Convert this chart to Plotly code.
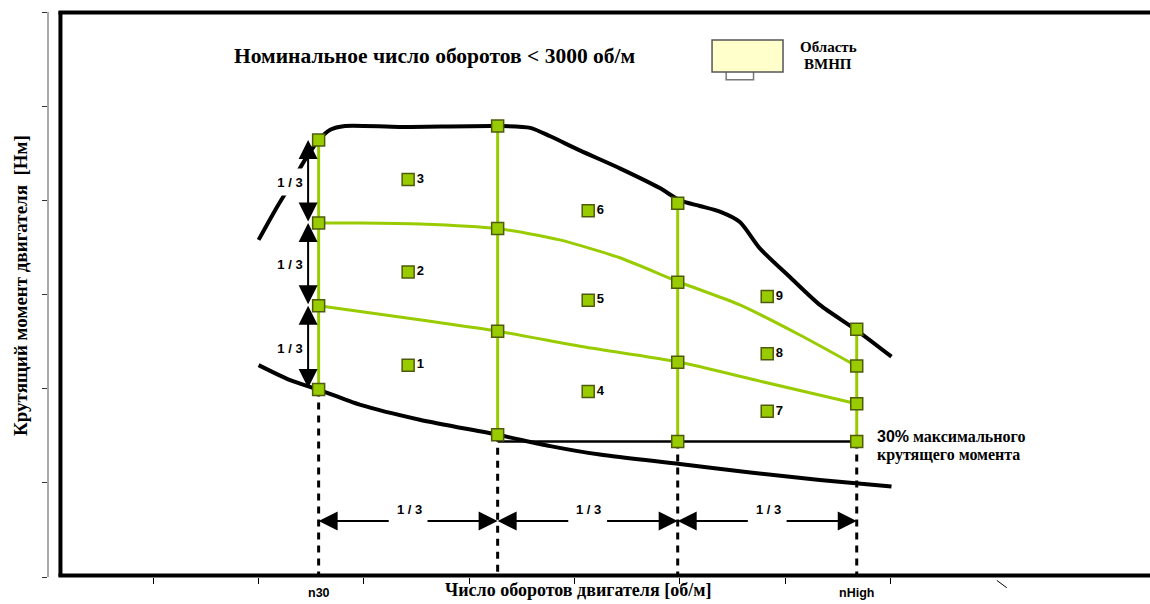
import plotly.graph_objects as go

# ---------------- data (axis units: 1 unit = one tick interval) ----------------
speed_cols = [2.57, 4.27, 5.98, 7.68]            # n30 ... nHigh
speed_col_labels = ["n30", "", "", "nHigh"]
torque_30pct = [1.99, 1.51, 1.44, 1.44]           # lower limit points
torque_one_third = [2.88, 2.61, 2.28, 1.84]
torque_two_third = [3.76, 3.70, 3.13, 2.24]
torque_max_pts = [4.64, 4.79, 3.97, 2.63]
torque_30pct_level = 1.44

max_curve_x = [2.00, 2.16, 2.30, 2.44, 2.57, 2.68, 2.82, 3.34, 4.27, 4.58, 4.77,
               5.05, 5.43, 5.81, 6.00, 6.19, 6.38, 6.57, 6.76, 7.05, 7.33, 7.68, 8.01]
max_curve_y = [3.58, 3.90, 4.16, 4.43, 4.64, 4.75, 4.79, 4.78, 4.79, 4.77, 4.68,
               4.53, 4.34, 4.13, 4.00, 3.94, 3.88, 3.77, 3.49, 3.18, 2.89, 2.62, 2.34]

min_curve_x = [2.00, 2.30, 2.57, 2.96, 3.53, 4.27, 4.77, 5.24, 6.00, 6.67, 7.33, 8.01]
min_curve_y = [2.25, 2.09, 1.99, 1.83, 1.67, 1.51, 1.39, 1.30, 1.20, 1.11, 1.03, 0.96]

row_one_third_x = [2.57, 4.27, 5.05, 6.00, 6.76, 7.68]
row_one_third_y = [2.88, 2.61, 2.45, 2.28, 2.08, 1.84]
row_two_third_x = [2.57, 2.96, 3.53, 4.27, 4.86, 5.43, 6.00, 6.57, 7.14, 7.68]
row_two_third_y = [3.76, 3.76, 3.75, 3.70, 3.58, 3.39, 3.13, 2.89, 2.57, 2.24]

mode_x = [3.42, 3.42, 3.42, 5.13, 5.13, 5.13, 6.83, 6.83, 6.83]
mode_y = [2.25, 3.24, 4.22, 1.97, 2.94, 3.89, 1.76, 2.37, 2.98]
mode_labels = ["1", "2", "3", "4", "5", "6", "7", "8", "9"]

x_tick_vals = [1, 2, 3, 4, 5, 6, 7, 8]
y_tick_vals = [0, 1, 2, 3, 4, 5, 6]

# ---------------- styling ----------------
SERIF = "Times New Roman, Liberation Serif, serif"
SANS = "Arial, Liberation Sans, sans-serif"
GREEN = "#99CC00"
GREEN_EDGE = "#4E5B0C"

fig = go.Figure()

# dashed verticals down to the speed axis
for cx, cy in zip(speed_cols, torque_30pct):
    fig.add_trace(go.Scatter(x=[cx, cx], y=[cy, 0.02], mode="lines",
                             line=dict(color="black", width=3, dash="7px,6px"),
                             hoverinfo="skip", showlegend=False))

# black envelope curves
fig.add_trace(go.Scatter(x=max_curve_x, y=max_curve_y, mode="lines",
                         line=dict(color="black", width=4, shape="spline", smoothing=0.7),
                         hoverinfo="skip", showlegend=False))
fig.add_trace(go.Scatter(x=min_curve_x, y=min_curve_y, mode="lines",
                         line=dict(color="black", width=4, shape="spline", smoothing=0.7),
                         hoverinfo="skip", showlegend=False))
# 30 % line
fig.add_trace(go.Scatter(x=[speed_cols[1], speed_cols[3]],
                         y=[torque_30pct_level, torque_30pct_level], mode="lines",
                         line=dict(color="black", width=2.5),
                         hoverinfo="skip", showlegend=False))

# green grid
for i, cx in enumerate(speed_cols):
    fig.add_trace(go.Scatter(x=[cx] * 4,
                             y=[torque_30pct[i], torque_one_third[i], torque_two_third[i], torque_max_pts[i]],
                             mode="lines", line=dict(color=GREEN, width=3),
                             hoverinfo="skip", showlegend=False))
fig.add_trace(go.Scatter(x=row_one_third_x, y=row_one_third_y, mode="lines",
                         line=dict(color=GREEN, width=3, shape="spline", smoothing=0.6),
                         hoverinfo="skip", showlegend=False))
fig.add_trace(go.Scatter(x=row_two_third_x, y=row_two_third_y, mode="lines",
                         line=dict(color=GREEN, width=3, shape="spline", smoothing=0.6),
                         hoverinfo="skip", showlegend=False))

# grid squares
fig.add_trace(go.Scatter(x=speed_cols * 4,
                         y=torque_30pct + torque_one_third + torque_two_third + torque_max_pts,
                         mode="markers",
                         marker=dict(symbol="square", size=12, color=GREEN,
                                     line=dict(color=GREEN_EDGE, width=1.5)),
                         hoverinfo="skip", showlegend=False))

# mode points
fig.add_trace(go.Scatter(x=mode_x, y=mode_y, mode="markers+text", text=mode_labels,
                         textposition="middle right",
                         textfont=dict(family=SANS, size=13, color="black", weight="bold"),
                         marker=dict(symbol="square", size=12, color=GREEN,
                                     line=dict(color=GREEN_EDGE, width=1.5)),
                         hoverinfo="skip", showlegend=False))

annotations = []
arrow_common = dict(xref="x", yref="y", axref="x", ayref="y", text="", showarrow=True,
                    arrowhead=2, startarrowhead=2, arrowwidth=2, arrowsize=1.9,
                    startarrowsize=1.9, arrowcolor="black", standoff=0, startstandoff=0)

# vertical 1/3 arrows on n30
col0_levels = [torque_max_pts[0], torque_two_third[0], torque_one_third[0], torque_30pct[0]]
arrow_x = speed_cols[0] - 0.10
for k in range(3):
    top, bot = col0_levels[k], col0_levels[k + 1]
    annotations.append(dict(arrow_common, x=arrow_x, y=top, ax=arrow_x, ay=bot,
                            arrowside="end+start"))
for k in range(3):
    top, bot = col0_levels[k], col0_levels[k + 1]
    annotations.append(dict(x=arrow_x, y=(top + bot) / 2, xref="x", yref="y",
                            text="1 / 3", showarrow=False, xshift=-18,
                            bgcolor="white", width=28, height=24,
                            font=dict(family=SANS, size=13, color="black", weight="bold")))

# horizontal 1/3 arrows
arrow_y = 0.595
for k in range(3):
    a, b = speed_cols[k], speed_cols[k + 1]
    mid = (a + b) / 2
    annotations.append(dict(arrow_common, x=a, y=arrow_y, ax=mid - 0.17, ay=arrow_y,
                            arrowside="end"))
    annotations.append(dict(arrow_common, x=b, y=arrow_y, ax=mid + 0.17, ay=arrow_y,
                            arrowside="end"))
    annotations.append(dict(x=mid + 0.01, y=0.722, xref="x", yref="y", text="1 / 3",
                            showarrow=False,
                            font=dict(family=SANS, size=13, color="black", weight="bold")))

# title
annotations.append(dict(x=3.675, y=5.53, xref="x", yref="y", showarrow=False,
                        text="Номинальное число оборотов < 3000 об/м",
                        font=dict(family=SERIF, size=21.5, color="black", weight="bold")))
# legend text
for txt, yy in (("Область", 5.627), ("ВМНП", 5.447)):
    annotations.append(dict(x=7.41, y=yy, xref="x", yref="y", showarrow=False,
                            text=txt, align="center",
                            font=dict(family=SERIF, size=15, color="black", weight="bold")))
# 30% text
for txt, yy in (("<span style='font-family:Arial, Liberation Sans'>30%</span> максимального", 1.487),
                ("крутящего момента", 1.296)):
    annotations.append(dict(x=7.85, y=yy, xref="x", yref="y", showarrow=False,
                            xanchor="left", align="left", text=txt,
                            font=dict(family=SERIF, size=16, color="black", weight="bold")))
# n30 / nHigh
for cx, lab in zip(speed_cols, speed_col_labels):
    if lab:
        annotations.append(dict(x=cx, y=-0.028, xref="x", yref="paper", showarrow=False,
                                text=lab, yanchor="middle",
                                font=dict(family=SANS, size=12.5, color="black", weight="bold")))
# axis titles
annotations.append(dict(x=0.481, y=-0.023, xref="paper", yref="paper", showarrow=False,
                        text="Число оборотов двигателя [об/м]", yanchor="middle",
                        font=dict(family=SERIF, size=18, color="black", weight="bold")))
annotations.append(dict(x=-0.0254, y=0.515, xref="paper", yref="paper", showarrow=False,
                        text="Крутящий момент двигателя \u00a0[Нм]", textangle=-90,
                        xanchor="center", yanchor="middle",
                        font=dict(family=SERIF, size=19, color="black", weight="bold")))

frame_line = dict(color="black", width=4)
shapes = [
    # thin torque axis line
    dict(type="line", xref="paper", yref="paper", x0=0.0, x1=0.0, y0=0.0, y1=1.0,
         line=dict(color="#555", width=1)),
    # white strip along the right picture edge
    dict(type="rect", xref="paper", yref="paper", x0=0.99, x1=1.02, y0=0.006, y1=0.995,
         line=dict(width=0), fillcolor="white", layer="above"),
    # frame: left, top and bottom edges (the right edge lies beyond the picture)
    dict(type="line", xref="paper", yref="paper", x0=0.0113, x1=0.0113, y0=0.0009, y1=1.0009,
         line=frame_line, layer="above"),
    dict(type="line", xref="paper", yref="paper", x0=0.0095, x1=1.02, y0=0.999, y1=0.999,
         line=frame_line, layer="above"),
    dict(type="line", xref="paper", yref="paper", x0=0.0095, x1=1.02, y0=0.0027, y1=0.0027,
         line=frame_line, layer="above"),
    # legend swatch
    dict(type="rect", xref="x", yref="y", x0=6.44, x1=6.70, y0=5.28, y1=5.37,
         line=dict(color="#777", width=1.5), fillcolor="white"),
    dict(type="rect", xref="x", yref="y", x0=6.306, x1=6.98, y0=5.363, y1=5.702,
         line=dict(color="#555", width=1.5), fillcolor="#FFFFCC"),
    # slanted tick stroke
    dict(type="line", xref="paper", yref="paper", x0=0.861, x1=0.870, y0=-0.006, y1=-0.019,
         line=dict(color="black", width=1)),
]

fig.update_layout(
    width=1150, height=604,
    margin=dict(l=48, r=0, t=12, b=27),
    paper_bgcolor="white", plot_bgcolor="white",
    showlegend=False,
    annotations=annotations,
    shapes=shapes,
    xaxis=dict(range=[0, 10.465], showgrid=False, zeroline=False, showline=False,
               tickvals=x_tick_vals, ticks="outside", ticklen=6, tickwidth=1,
               tickcolor="black", showticklabels=False, fixedrange=True),
    yaxis=dict(range=[0, 6], showgrid=False, zeroline=False, showline=False,
               tickvals=y_tick_vals, ticks="outside", ticklen=5, tickwidth=1,
               tickcolor="#333", showticklabels=False, fixedrange=True),
)

fig.write_html("out.html", config={"displayModeBar": False},
               post_script="document.body.style.margin='0';document.body.style.overflow='hidden';")
